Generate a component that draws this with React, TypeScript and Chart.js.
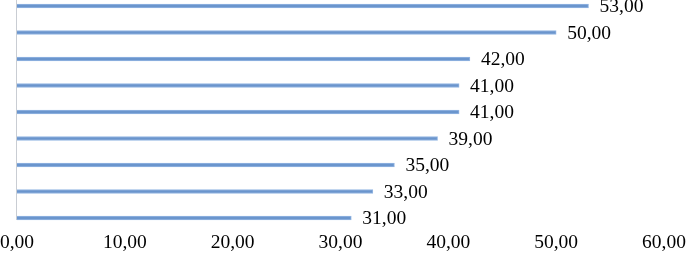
import React, { useEffect, useRef } from "react";
import { Chart, registerables } from "chart.js";

Chart.register(...registerables);

const categories = ["1", "2", "3", "4", "5", "6", "7", "8", "9"];
const values = [53, 50, 42, 41, 41, 39, 35, 33, 31];
const xMin = 0;
const xMax = 60;
const xStep = 10;

const fmt = (v: number) => v.toFixed(2).replace(".", ",");
const FONT = "Liberation Serif";
const FS = 19.5;

const extras = {
  id: "extras",
  afterDatasetsDraw(chart: any) {
    const { ctx, chartArea } = chart;
    ctx.save();
    // left axis line
    ctx.strokeStyle = "#C9CDD3";
    ctx.lineWidth = 1;
    ctx.beginPath();
    ctx.moveTo(Math.round(chartArea.left) - 0.5, 0);
    ctx.lineTo(Math.round(chartArea.left) - 0.5, chartArea.bottom + 2);
    ctx.stroke();
    // data labels
    const meta = chart.getDatasetMeta(0);
    ctx.fillStyle = "#000";
    ctx.font = `${FS}px "${FONT}"`;
    ctx.textBaseline = "middle";
    ctx.textAlign = "left";
    meta.data.forEach((el: any, i: number) => {
      ctx.fillText(fmt(values[i]), el.x + 11, el.y + 1);
    });
    ctx.restore();
  },
};

export default function App() {
  const ref = useRef<HTMLCanvasElement>(null);
  useEffect(() => {
    document.body.style.margin = "0";
    const chart = new Chart(ref.current!, {
      type: "bar",
      data: {
        labels: categories,
        datasets: [
          {
            data: values,
            backgroundColor: "#6A95CD",
            borderColor: "#94B6E2",
            borderWidth: 1,
            barThickness: 4,
            clip: false as any,
          },
        ],
      },
      options: {
        indexAxis: "y",
        animation: false,
        responsive: false,
        maintainAspectRatio: false,
        layout: { padding: { top: 6, left: 0, right: 0, bottom: 0 } },
        plugins: { legend: { display: false }, tooltip: { enabled: false } },
        scales: {
          x: {
            min: xMin,
            max: xMax,
            afterFit: (s: any) => {
              s.height = 35;
              s.paddingLeft = 17;
              s.paddingRight = 22;
            },
            ticks: {
              stepSize: xStep,
              padding: 13,
              color: "#000",
              font: { family: FONT, size: FS },
              callback: (v: any) => fmt(Number(v)),
            },
            grid: { display: false, drawTicks: false },
            border: { display: false },
          },
          y: {
            display: false,
            offset: false,
          },
        },
      },
      plugins: [extras],
    });
    return () => chart.destroy();
  }, []);
  return <canvas ref={ref} width={686} height={253} style={{ display: "block" }} />;
}
